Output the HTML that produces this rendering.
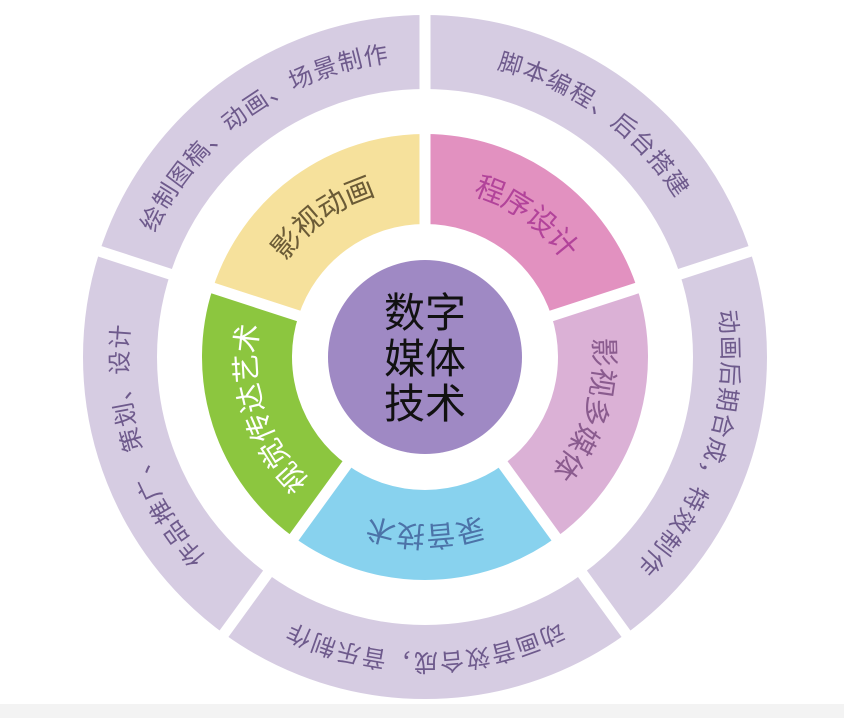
<!DOCTYPE html>
<html><head><meta charset="utf-8"><style>
html,body{margin:0;padding:0;background:#fff;}
svg{display:block;}
text{font-family:"Liberation Sans","Noto Sans CJK SC",sans-serif;}
</style></head><body>
<svg width="844" height="718" viewBox="0 0 844 718" xmlns="http://www.w3.org/2000/svg">
<rect x="0" y="0" width="844" height="718" fill="#fff"/>
<rect x="0" y="704" width="844" height="14" fill="#f3f3f3"/>
<defs>
<path id="o1" d="M425,52 A305,305 0 0 1 715.1,262.8"/>
<path id="o2" d="M715.1,262.8 A305,305 0 0 1 604.3,603.7"/>
<path id="o3" d="M604.3,603.7 A305,305 0 0 1 245.7,603.7"/>
<path id="o4" d="M245.7,603.7 A305,305 0 0 1 134.9,262.8"/>
<path id="o5" d="M134.9,262.8 A305,305 0 0 1 425,52"/>
<path id="i1" d="M425,179 A178,178 0 0 1 594.3,302"/>
<path id="i2" d="M594.3,302 A178,178 0 0 1 529.6,501"/>
<path id="i3" d="M529.6,501 A178,178 0 0 1 320.4,501"/>
<path id="i4" d="M320.4,501 A178,178 0 0 1 255.7,302"/>
<path id="i5" d="M255.7,302 A178,178 0 0 1 425,179"/>
</defs>
<circle cx="425" cy="357" r="305" fill="none" stroke="#d6cce2" stroke-width="74"/>
<g fill="none" stroke-width="90">
<circle cx="425" cy="357" r="178" stroke="#e291c0" stroke-dasharray="223.7 2000" transform="rotate(-90 425 357)"/>
<circle cx="425" cy="357" r="178" stroke="#dbb1d6" stroke-dasharray="223.7 2000" transform="rotate(-18 425 357)"/>
<circle cx="425" cy="357" r="178" stroke="#88d2ee" stroke-dasharray="223.7 2000" transform="rotate(54 425 357)"/>
<circle cx="425" cy="357" r="178" stroke="#8cc63f" stroke-dasharray="223.7 2000" transform="rotate(126 425 357)"/>
<circle cx="425" cy="357" r="178" stroke="#f6e19c" stroke-dasharray="223.7 2000" transform="rotate(198 425 357)"/>
</g>
<g stroke="#fff" stroke-width="11">
<line x1="425" y1="357" x2="425" y2="7"/>
<line x1="425" y1="357" x2="757.9" y2="248.8"/>
<line x1="425" y1="357" x2="630.7" y2="640.2"/>
<line x1="425" y1="357" x2="219.3" y2="640.2"/>
<line x1="425" y1="357" x2="92.1" y2="248.8"/>
</g>
<circle cx="425" cy="357" r="97" fill="#9f89c4"/>
<g font-size="24" fill="#6e5a8c" letter-spacing="2" dominant-baseline="central" text-anchor="middle">
<text><textPath href="#o1" startOffset="50%">脚本编程、后台搭建</textPath></text>
<text><textPath href="#o2" startOffset="50%">动画后期合成，特效制作</textPath></text>
<text><textPath href="#o3" startOffset="50%">动画音效合成，音乐制作</textPath></text>
<text><textPath href="#o4" startOffset="50%">作品推广、策划、设计</textPath></text>
<text><textPath href="#o5" startOffset="50%">绘制图稿、动画、场景制作</textPath></text>
</g>
<g font-size="29" dominant-baseline="central" text-anchor="middle" letter-spacing="1">
<text fill="#b2439a"><textPath href="#i1" startOffset="50%">程序设计</textPath></text>
<text fill="#8a5b8e"><textPath href="#i2" startOffset="50%">影视多媒体</textPath></text>
<text fill="#4c73a8"><textPath href="#i3" startOffset="50%">录音技术</textPath></text>
<text fill="#ffffff"><textPath href="#i4" startOffset="50%">视觉传达艺术</textPath></text>
<text fill="#6b5b36"><textPath href="#i5" startOffset="50%">影视动画</textPath></text>
</g>
<g font-size="41" fill="#111" text-anchor="middle">
<text x="425" y="327">数字</text>
<text x="425" y="373">媒体</text>
<text x="425" y="418">技术</text>
</g>
</svg>
</body></html>
